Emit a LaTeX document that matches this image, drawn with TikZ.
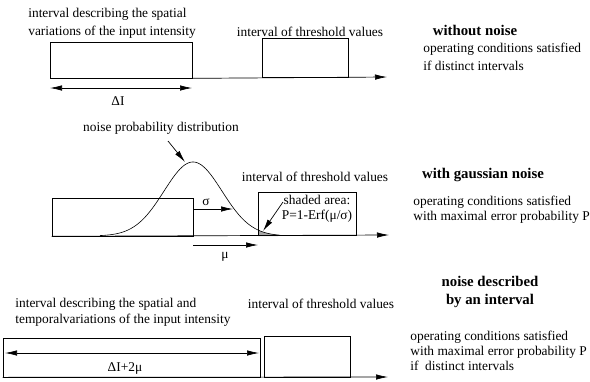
\documentclass[tikz,border=0pt]{standalone}
\usepackage{fontspec}
\setmainfont{Liberation Serif}
\usetikzlibrary{arrows.meta}
\begin{document}
\begin{tikzpicture}[x=1pt,y=-1pt, line width=0.7pt,
  box/.style={draw, inner sep=0pt},
  lbl/.style={inner sep=0pt, font=\fontsize{13.4}{16}\selectfont},
  lblw/.style={inner sep=0pt, font=\fontsize{13.4}{18}\selectfont},
  lbln/.style={inner sep=0pt, font=\fontsize{13.4}{15}\selectfont},
  ttl/.style={inner sep=0pt, font=\fontsize{14.8}{18}\selectfont\bfseries},
  arr/.style={-{Latex[length=12pt,width=5.5pt]}},
  darr/.style={{Latex[length=12pt,width=5.5pt]}-{Latex[length=12pt,width=5.5pt]}}]
\useasboundingbox (0,0) rectangle (590,381);

% ---------- panel 1 ----------
\node[lblw, anchor=north west, align=left] (t1) at (28,8) {interval describing the spatial\\variations of the input intensity};
\node[box, minimum width=142pt, minimum height=36pt] (b1) at (121,60) {};
\node[box, minimum width=86pt, minimum height=39pt] (b2) at (305,57.5) {};
\node[lbl] (th1) at (310,32) {interval of threshold values};
\coordinate (ax1) at (387,77);
\draw[arr] (b1.south east) -- (ax1);
\coordinate (d1a) at (50,88);
\coordinate (d1b) at (192,88);
\draw[darr] (d1a) -- (d1b);
\node[lbl] (dI) at (118,101) {ΔI};
\node[ttl] (w1) at (475,30) {without noise};
\node[lblw, anchor=north west, align=left] (o1) at (423,43) {operating conditions satisfied\\ if distinct intervals};

% ---------- panel 2 ----------
\node[lbl] (npd) at (161,128) {noise probability distribution};
\coordinate (pk) at (185,162);
\draw[arr] (168,141) -- (pk);
\fill[gray!70] plot[domain=258:278, samples=20] (\x, {236-74*exp(-((\x-193)^2)/(2*29^2))}) -- (278,236) -- (258,236) -- cycle;
\draw[line width=0.6pt] plot[domain=100:280, samples=120, smooth] (\x, {236-74*exp(-((\x-193)^2)/(2*29^2))});
\node[box, minimum width=141pt, minimum height=38pt] (b3) at (122.5,217) {};
\node[box, minimum width=98pt, minimum height=43pt] (b4) at (307,213.5) {};
\coordinate (ax2) at (389,235);
\draw[arr] (b3.south west) -- (ax2);
\node[lbl] (th2) at (315,177) {interval of threshold values};
\node[lbln, align=center] (sa) at (317,209) {shaded area:\\ P=1-Erf(μ/σ)};
\coordinate (sh) at (263,231);
\draw[arr] (283,202) -- (sh);
\coordinate (s1) at (233,209);
\draw[arr] (b3.east |- s1) -- (s1);
\node[lbl] (sg) at (206,202) {σ};
\coordinate (m0) at (193,245);
\coordinate (m1) at (258,245);
\draw[arr] (m0) -- (m1);
\node[lbl] (mu) at (225,257) {μ};
\node[ttl] (w2) at (483,175) {with gaussian noise};
\node[lbln, anchor=north west, align=left] (o2) at (413,196) {operating conditions satisfied\\with maximal error probability P};

% ---------- panel 3 ----------
\node[ttl, align=center] (w3) at (490,292) {noise described\\by an interval};
\node[lbl, anchor=north west, align=left] (t3) at (15,298) {interval describing the spatial and\\temporalvariations of the input intensity};
\node[lbl] (th3) at (321,304) {interval of threshold values};
\node[box, minimum width=257pt, minimum height=39pt] (b5) at (131.5,357.5) {};
\node[box, minimum width=86pt, minimum height=41pt] (b6) at (307,356.5) {};
\coordinate (ax3) at (388,377);
\draw[arr] (b5.south west) -- (ax3);
\coordinate (d3a) at (5,353);
\coordinate (d3b) at (259,353);
\draw[darr] (d3a) -- (d3b);
\node[lbl] (dI2) at (125,368) {ΔI+2μ};
\node[lbln, anchor=north west, align=left] (o3) at (410,331) {operating conditions satisfied\\with maximal error probability P\\if\ \ distinct intervals};
\end{tikzpicture}
\end{document}
